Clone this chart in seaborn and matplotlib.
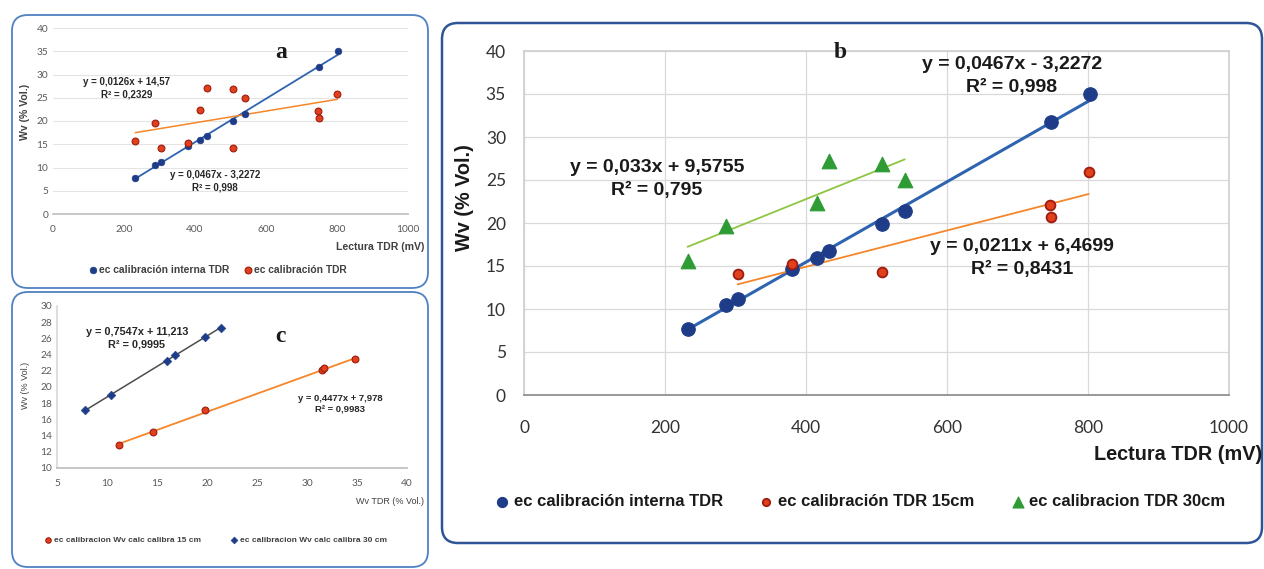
import numpy as np
import pandas as pd
import matplotlib
matplotlib.use('Agg')
import matplotlib.pyplot as plt
from matplotlib.patches import FancyBboxPatch
import seaborn as sns

sns.set_theme(style='white')
plt.rcParams['font.family'] = ['Lato', 'DejaVu Sans']
BOLD = ['Liberation Sans', 'DejaVu Sans']

# TDR reading (mV) and water content
tdr_mv = [232, 287, 303, 380, 415, 433, 508, 540, 748, 803]
wv_interna = [7.7, 10.5, 11.2, 14.7, 15.9, 16.7, 19.9, 21.4, 31.7, 35.0]
mv_15 = [303, 380, 508, 746, 748, 801]
wv_15 = [14.1, 15.2, 14.3, 22.1, 20.7, 25.9]
mv_30 = [232, 287, 415, 433, 508, 540]
wv_30 = [15.6, 19.6, 22.3, 27.2, 26.9, 25.0]

# panel c: Wv TDR vs calculated Wv
tdr_c15 = [11.2, 14.6, 19.8, 31.5, 31.7, 34.8]
calc_c15 = [12.8, 14.5, 17.1, 22.1, 22.3, 23.4]
tdr_c30 = [7.8, 10.4, 16.0, 16.8, 19.8, 21.4]
calc_c30 = [17.1, 19.0, 23.2, 23.9, 26.2, 27.3]

# trendline coefficients (slope, intercept) as printed on the chart
fit_interna = (0.0467, -3.2272)
fit_all = (0.0126, 14.57)
fit_15 = (0.0211, 6.4699)
fit_30 = (0.033, 9.5755)
fit_c30 = (0.7547, 11.213)
fit_c15 = (0.4477, 7.978)

navy = '#1F3C88'
blue_line = '#2E64B0'
red_fill = '#E0401C'
red_edge = '#9E1B0E'
orange = '#F5862A'
green = '#2E9B35'
green_line = '#8DC641'

W, H = 1264, 569
fig = plt.figure(figsize=(W / 100, H / 100), dpi=100)
fig.patch.set_facecolor('white')


def fx(px):
    return px / W


def fy(py):
    return 1 - py / H


def panel_box(x0, y0, x1, y1, color, lw):
    box = FancyBboxPatch((x0 / 100, (H - y1) / 100), (x1 - x0) / 100, (y1 - y0) / 100,
                         boxstyle='round,pad=0,rounding_size=0.16',
                         transform=fig.dpi_scale_trans, facecolor='white',
                         edgecolor=color, linewidth=lw, zorder=-5)
    fig.add_artist(box)


def trend(ax, xs, fit, color, lw):
    xr = np.array([min(xs), max(xs)])
    sns.lineplot(x=xr, y=fit[0] * xr + fit[1], ax=ax, color=color, linewidth=lw, zorder=2)


def eq_text(fit, r2):
    sign = '-' if fit[1] < 0 else '+'
    s = f'y = {fit[0]}x {sign} {abs(fit[1])}'.replace('.', ',')
    return s + '\nR² = ' + r2


def btext(px, py, s, size, **kw):
    fig.text(fx(px), fy(py), s, fontsize=size, fontweight='bold', family=BOLD,
             color=kw.pop('color', '#1a1a1a'), **kw)


panel_box(12, 15, 428, 288, '#4F81C2', 1.3)
panel_box(12, 292, 428, 567, '#4F81C2', 1.3)
panel_box(442, 23, 1262, 543, '#2F5597', 1.8)

# ---------- panel a ----------
ax_a = fig.add_axes([fx(53), fy(214), fx(408) - fx(53), fy(28) - fy(214)])
trend(ax_a, tdr_mv, fit_interna, blue_line, 1.3)
trend(ax_a, mv_15 + mv_30, fit_all, orange, 1.1)
sns.scatterplot(x=tdr_mv, y=wv_interna, ax=ax_a, color=navy, edgecolor=navy, s=24,
                label='ec calibración interna TDR', zorder=3)
sns.scatterplot(x=mv_15 + mv_30, y=wv_15 + wv_30, ax=ax_a, color=red_fill, edgecolor=red_edge,
                linewidth=0.8, s=24, label='ec calibración TDR', zorder=3)
h_a, l_a = ax_a.get_legend_handles_labels()
ax_a.get_legend().remove()
ax_a.set_xlim(0, 1000)
ax_a.set_ylim(0, 40)
ax_a.set_xticks(range(0, 1001, 200))
ax_a.set_yticks(range(0, 41, 5))
ax_a.yaxis.grid(True, color='#E4E4E4', linewidth=0.8)
ax_a.set_facecolor('none')
for s in ['top', 'right', 'left']:
    ax_a.spines[s].set_visible(False)
ax_a.spines['bottom'].set_color('#BFBFBF')
ax_a.tick_params(labelsize=7.3, colors='#595959', length=0)
ax_a.tick_params(axis='x', pad=8)
ax_a.set_xlabel('')
ax_a.set_ylabel('')
btext(424, 247, 'Lectura TDR (mV)', 7.6, ha='right', va='center', color='#404040')
btext(25, 112, 'Wv (% Vol.)', 7.6, rotation=90, ha='center', va='center', color='#404040')
btext(127, 88, eq_text(fit_all, '0,2329'), 7, ha='center', va='center', linespacing=1.3,
      color='#262626')
btext(215, 181, eq_text(fit_interna, '0,998'), 7, ha='center', va='center', linespacing=1.3,
      color='#262626')
fig.text(fx(281), fy(52), 'a', ha='center', va='center', fontsize=17, fontweight='bold',
         family=['Liberation Serif', 'DejaVu Serif'], color='#1a1a1a')
fig.legend(h_a, l_a, loc='center left', bbox_to_anchor=(fx(85), fy(270)), ncol=2, frameon=False,
           prop={'size': 7.4, 'weight': 'bold', 'family': BOLD}, handlelength=0.8,
           handletextpad=0.2, columnspacing=1.4, borderaxespad=0, markerscale=1.0,
           labelcolor='#404040')

# ---------- panel c ----------
ax_c = fig.add_axes([fx(57), fy(468), fx(407) - fx(57), fy(306) - fy(468)])
trend(ax_c, tdr_c30, fit_c30, '#4D4D4D', 1.1)
trend(ax_c, tdr_c15, fit_c15, orange, 1.3)
sns.scatterplot(x=tdr_c15, y=calc_c15, ax=ax_c, color=red_fill, edgecolor=red_edge, linewidth=0.8,
                s=24, label='ec calibracion Wv calc calibra 15 cm', zorder=3)
sns.scatterplot(x=tdr_c30, y=calc_c30, ax=ax_c, color=navy, edgecolor=navy, marker='D', s=20,
                label='ec calibracion Wv calc calibra 30 cm', zorder=3)
h_c, l_c = ax_c.get_legend_handles_labels()
ax_c.get_legend().remove()
ax_c.set_xlim(5, 40)
ax_c.set_ylim(10, 30)
ax_c.set_xticks(range(5, 41, 5))
ax_c.set_yticks(range(10, 31, 2))
ax_c.set_facecolor('none')
for s in ['top', 'right']:
    ax_c.spines[s].set_visible(False)
ax_c.spines['bottom'].set_color('#BFBFBF')
ax_c.spines['left'].set_color('#D9D9D9')
ax_c.tick_params(labelsize=7.3, colors='#595959', length=0)
ax_c.tick_params(axis='x', pad=8)
ax_c.set_xlabel('')
ax_c.set_ylabel('')
fig.text(fx(424), fy(502), 'Wv TDR (% Vol.)', ha='right', va='center', fontsize=6.5,
         family=BOLD, color='#404040')
fig.text(fx(25), fy(385), 'Wv (% Vol.)', rotation=90, ha='center', va='center', fontsize=6.5,
         family=BOLD, color='#404040')
btext(137, 338, eq_text(fit_c30, '0,9995'), 7.8, ha='center', va='center', linespacing=1.3,
      color='#262626')
btext(340, 404, eq_text(fit_c15, '0,9983'), 6.8, ha='center', va='center', linespacing=1.3,
      color='#262626')
fig.text(fx(280), fy(337), 'c', ha='center', va='center', fontsize=17, fontweight='bold',
         family=['Liberation Serif', 'DejaVu Serif'], color='#1a1a1a')
fig.legend(h_c, l_c, loc='center left', bbox_to_anchor=(fx(41), fy(540)), ncol=2, frameon=False,
           prop={'size': 6, 'weight': 'bold', 'family': BOLD}, handlelength=0.8,
           handletextpad=0.3, columnspacing=3.6, borderaxespad=0, markerscale=0.8,
           labelcolor='#404040')

# ---------- panel b ----------
ax_b = fig.add_axes([fx(524), fy(395), fx(1229) - fx(524), fy(51) - fy(395)])
trend(ax_b, tdr_mv, fit_interna, blue_line, 2.2)
trend(ax_b, mv_15, fit_15, orange, 1.3)
trend(ax_b, mv_30, fit_30, green_line, 1.3)
sns.scatterplot(x=tdr_mv, y=wv_interna, ax=ax_b, color=navy, edgecolor=navy, s=95,
                label='ec calibración interna TDR', zorder=3)
sns.scatterplot(x=mv_15, y=wv_15, ax=ax_b, color=red_fill, edgecolor=red_edge, linewidth=1.3,
                s=50, label='ec calibración TDR 15cm', zorder=3)
sns.scatterplot(x=mv_30, y=wv_30, ax=ax_b, color=green, edgecolor=green, marker='^', s=110,
                label='ec calibracion TDR 30cm', zorder=3)
h_b, l_b = ax_b.get_legend_handles_labels()
ax_b.get_legend().remove()
ax_b.set_xlim(0, 1000)
ax_b.set_ylim(0, 40)
ax_b.set_xticks(range(0, 1001, 200))
ax_b.set_yticks(range(0, 41, 5))
ax_b.grid(True, color='#D9D9D9', linewidth=0.9)
ax_b.set_facecolor('none')
for s in ['top', 'right', 'left']:
    ax_b.spines[s].set_color('#D0D0D0')
ax_b.spines['bottom'].set_color('#8C8C8C')
ax_b.tick_params(axis='both', labelsize=12.5, colors='#333333', length=0)
ax_b.tick_params(axis='x', pad=18)
ax_b.tick_params(axis='y', pad=13)
ax_b.set_xlabel('')
ax_b.set_ylabel('')
btext(1262, 455, 'Lectura TDR (mV)', 14.3, ha='right', va='center')
btext(465, 198, 'Wv (% Vol.)', 14.3, rotation=90, ha='center', va='center')
btext(657, 179, eq_text(fit_30, '0,795'), 14, ha='center', va='center', linespacing=1.4)
btext(1012, 76, eq_text(fit_interna, '0,998'), 14, ha='center', va='center', linespacing=1.4)
btext(1022, 258, eq_text(fit_15, '0,8431'), 14, ha='center', va='center', linespacing=1.4)
fig.text(fx(840), fy(52), 'b', ha='center', va='center', fontsize=17, fontweight='bold',
         family=['Liberation Serif', 'DejaVu Serif'], color='#1a1a1a')
fig.legend(h_b, l_b, loc='center left', bbox_to_anchor=(fx(489), fy(502)), ncol=3, frameon=False,
           prop={'size': 12, 'weight': 'bold', 'family': BOLD}, handlelength=0.8,
           handletextpad=0.3, columnspacing=2.2, borderaxespad=0, markerscale=0.75,
           labelcolor='#1a1a1a')

fig.savefig('out.png', dpi=100)
